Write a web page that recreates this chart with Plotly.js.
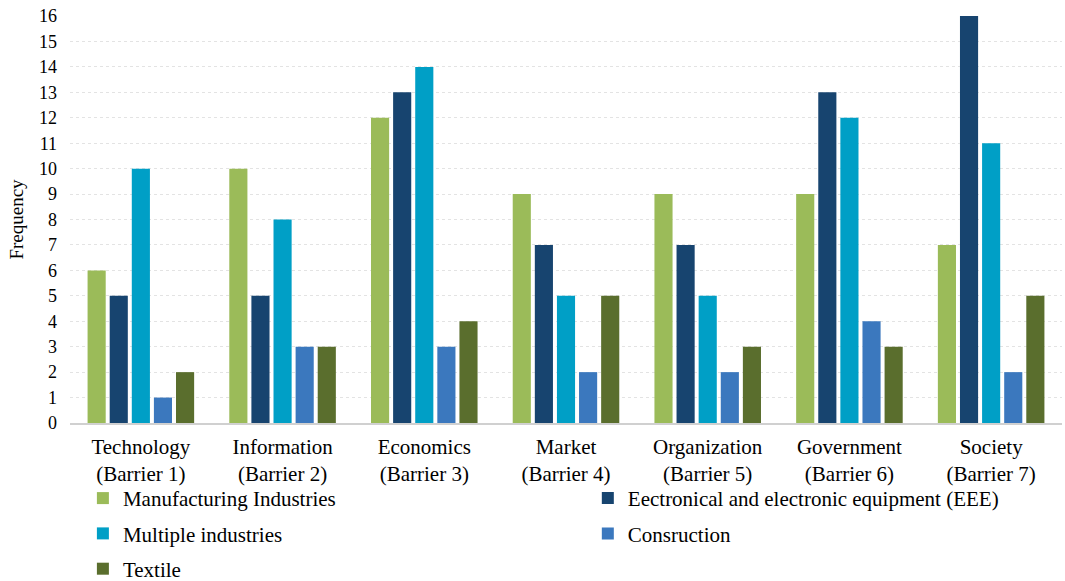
<!DOCTYPE html>
<html><head><meta charset="utf-8">
<script src="https://cdn.plot.ly/plotly-3.0.1.min.js"></script>
<style>body{margin:0;background:#fff}#c{width:1065px;height:581px}</style>
</head><body><div id="c"></div>
<script>
const categories = ["Technology<br>(Barrier 1)","Information<br>(Barrier 2)","Economics<br>(Barrier 3)","Market<br>(Barrier 4)","Organization<br>(Barrier 5)","Government<br>(Barrier 6)","Society<br>(Barrier 7)"];
const manufacturing = [6,10,12,9,9,9,7];
const eee = [5,5,13,7,7,13,16];
const multiple = [10,8,14,5,5,12,11];
const construction = [1,3,3,2,2,4,2];
const textile = [2,3,4,5,3,3,5];
const seriesNames = ["Manufacturing Industries","Eectronical and electronic equipment (EEE)","Multiple industries","Consruction","Textile"];
const colors = ["#9BBB59","#17446F","#009FC6","#3B78BE","#5A6E2D"];
const legendOf = ["legend","legend2","legend","legend2","legend"];
const vals = [manufacturing, eee, multiple, construction, textile];
const traces = vals.map((v,i)=>({type:'bar',x:categories,y:v,name:seriesNames[i],marker:{color:colors[i]},legend:legendOf[i],legendgroup:'g'+i}));
const legBase = {orientation:'v',y:-0.135,yanchor:'top',font:{size:21},tracegroupgap:5,traceorder:'grouped',bgcolor:'rgba(0,0,0,0)'};
const layout = {
  width:1065,height:581,
  margin:{l:70,r:3,t:16,b:158,autoexpand:false},
  paper_bgcolor:'#fff',plot_bgcolor:'#fff',
  font:{family:'"Liberation Serif", "Times New Roman", serif',color:'#000',size:18},
  barmode:'group',bargap:0.22,bargroupgap:0.18,
  xaxis:{showgrid:false,showline:true,linecolor:'#d0d0d0',linewidth:1.5,ticks:'',tickfont:{size:21},ticklabelstandoff:4,automargin:false},
  yaxis:{range:[0,16],dtick:1,showgrid:true,gridcolor:'#e3e3e3',griddash:'dot',zeroline:false,tickfont:{size:18},ticks:'',ticklabelstandoff:12,
    title:{text:'Frequency',font:{size:19},standoff:10},automargin:false},
  showlegend:true,
  legend:Object.assign({},legBase,{x:0.013,xanchor:'left'}),
  legend2:Object.assign({},legBase,{x:0.522,xanchor:'left'})
};
Plotly.newPlot('c',traces,layout,{displayModeBar:false});
</script></body></html>
